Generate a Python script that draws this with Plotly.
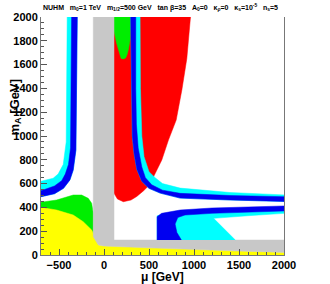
import plotly.graph_objects as go

# ---- data (region boundaries in data units: mu [GeV], m_A [GeV]) ----
mu_red = [111, 111, 150, 215, 300, 364, 440, 520, 549, 586, 642, 716, 802, 865, 920, 958, 962]
ma_red = [2000, 518, 470, 448, 462, 492, 540, 600, 655, 714, 798, 966, 1134, 1387, 1650, 1975, 2000]

mu_green_top = [111, 111, 140, 160, 175, 190, 215, 240, 255, 272, 290, 297, 297]
ma_green_top = [2000, 1880, 1780, 1730, 1680, 1652, 1648, 1655, 1680, 1730, 1810, 1900, 2000]

mu_green_low = [-700, -700, -527, -342, -248, -175, -137, -119, -119, -300]
ma_green_low = [300, 443, 462, 504, 504, 476, 434, 350, 150, 150]

mu_yellow = [-700, -700, -527, -342, -231, -137, -100, -63, 0, 500, 1000, 1500, 2000, 2000]
ma_yellow = [0, 400, 378, 336, 280, 210, 154, 84, 75, 60, 45, 33, 22, 0]

mu_grey = [-119, -119, -63, 0, 500, 1000, 1500, 2000, 2000, 111, 111]
ma_grey = [2000, 154, 84, 75, 60, 45, 33, 22, 126, 126, 2000]

mu_cyan_left = [-409, -412, -420, -453, -510, -565, -700, -700, -550, -450, -379, -342, -312, -305, -297]
ma_cyan_left = [2000, 1400, 950, 760, 680, 645, 620, 490, 515, 560, 630, 714, 882, 1400, 2000]

mu_blue_left = [-360, -365, -372, -395, -430, -470, -550, -700, -700, -550, -450, -379, -342, -312, -305, -297]
ma_blue_left = [2000, 1200, 900, 760, 680, 625, 580, 540, 490, 515, 560, 630, 714, 882, 1400, 2000]

mu_cyan_right = [297, 305, 315, 335, 365, 420, 500, 624, 846, 1400, 2000, 2000, 1400, 846, 650, 568, 500, 445, 420, 405, 401]
ma_cyan_right = [2000, 1400, 1000, 850, 720, 620, 560, 520, 478, 462, 450, 505, 525, 562, 600, 650, 700, 826, 1000, 1400, 2000]

mu_blue_right = [297, 305, 315, 335, 365, 420, 500, 624, 846, 1400, 2000, 2000, 1400, 846, 650, 530, 460, 420, 380, 360, 353, 353]
ma_blue_right = [2000, 1400, 1000, 850, 720, 620, 560, 520, 478, 462, 450, 490, 500, 518, 545, 590, 650, 740, 900, 1100, 1400, 2000]

mu_cyan_low = [590, 590, 846, 1400, 2000, 2000, 1600, 1218, 1459]
ma_cyan_low = [126, 330, 372, 390, 400, 350, 330, 308, 126]

mu_blue_low = [590, 590, 640, 760, 846, 1200, 1600, 2000, 2000, 1600, 1200, 900, 820, 790, 810, 860]
ma_blue_low = [126, 322, 350, 370, 378, 395, 405, 412, 370, 362, 350, 336, 315, 260, 190, 126]

x_ticks = [-500, 0, 500, 1000, 1500, 2000]
y_ticks = [0, 200, 400, 600, 800, 1000, 1200, 1400, 1600, 1800, 2000]

regions = [
    (mu_red, ma_red, "#ff0000"),
    (mu_green_top, ma_green_top, "#00ee00"),
    (mu_green_low, ma_green_low, "#00ee00"),
    (mu_yellow, ma_yellow, "#ffff00"),
    (mu_grey, ma_grey, "#c8c8c8"),
    (mu_cyan_left, ma_cyan_left, "#00ffff"),
    (mu_blue_left, ma_blue_left, "#0000f0"),
    (mu_cyan_right, ma_cyan_right, "#00ffff"),
    (mu_blue_right, ma_blue_right, "#0000f0"),
    (mu_cyan_low, ma_cyan_low, "#00ffff"),
    (mu_blue_low, ma_blue_low, "#0000f0"),
]

fig = go.Figure()
for xs, ys, c in regions:
    fig.add_trace(go.Scatter(x=xs, y=ys, fill="toself", fillcolor=c, mode="lines",
                             line=dict(width=0.5, color=c), hoverinfo="skip",
                             showlegend=False))

nb = "\u00a0\u00a0\u00a0"
title = ("NUHM" + nb + "m<sub>0</sub>=1 TeV" + nb + "m<sub>1/2</sub>=500 GeV" + nb +
         "tan β=35" + nb + "A<sub>0</sub>=0" + nb + "κ<sub>ρ</sub>=0" + nb +
         "κ<sub>s</sub>=10<sup>-5</sup>" + nb + "n<sub>s</sub>=5")

fig.add_annotation(text=title, xref="paper", yref="paper", x=0.49, y=1.042,
                   xanchor="center", yanchor="middle", showarrow=False,
                   font=dict(family="Liberation Sans", size=7, color="black", weight="bold"))

fig.add_annotation(text="μ [GeV]", xref="paper", yref="paper", x=0.498, y=-0.094,
                   xanchor="center", yanchor="middle", showarrow=False,
                   font=dict(family="Liberation Sans", size=12, color="black", weight="bold"))
fig.add_annotation(text="m<sub>A</sub> [GeV]", xref="paper", yref="paper", x=-0.107, y=0.62,
                   xanchor="center", yanchor="middle", showarrow=False, textangle=-90,
                   font=dict(family="Liberation Sans", size=13, color="black", weight="bold"))

tickfont = dict(family="Liberation Sans", size=11, color="black", weight="bold")
fig.update_layout(
    width=330, height=284,
    margin=dict(l=41, r=46, t=17, b=29, autoexpand=False),
    plot_bgcolor="white", paper_bgcolor="white",
    xaxis=dict(range=[-700, 2000], tickvals=x_ticks, ticks="inside", ticklen=6,
               tickcolor="#555555", showline=True, linecolor="#777777", linewidth=1,
               showgrid=False, zeroline=False, tickfont=tickfont, automargin=False,
               ticklabelstandoff=0,
               minor=dict(dtick=100, ticks="inside", ticklen=3, tickcolor="#555555")),
    yaxis=dict(range=[0, 2000], tickvals=y_ticks, ticks="inside", ticklen=6,
               tickcolor="#555555", showline=True, linecolor="#777777", linewidth=1,
               mirror=True, showgrid=False, zeroline=False, tickfont=tickfont, automargin=False,
               minor=dict(dtick=50, ticks="inside", ticklen=3, tickcolor="#555555")),
)

fig.write_html("out.html", config={"displayModeBar": False},
               post_script="document.body.style.margin='0';")
